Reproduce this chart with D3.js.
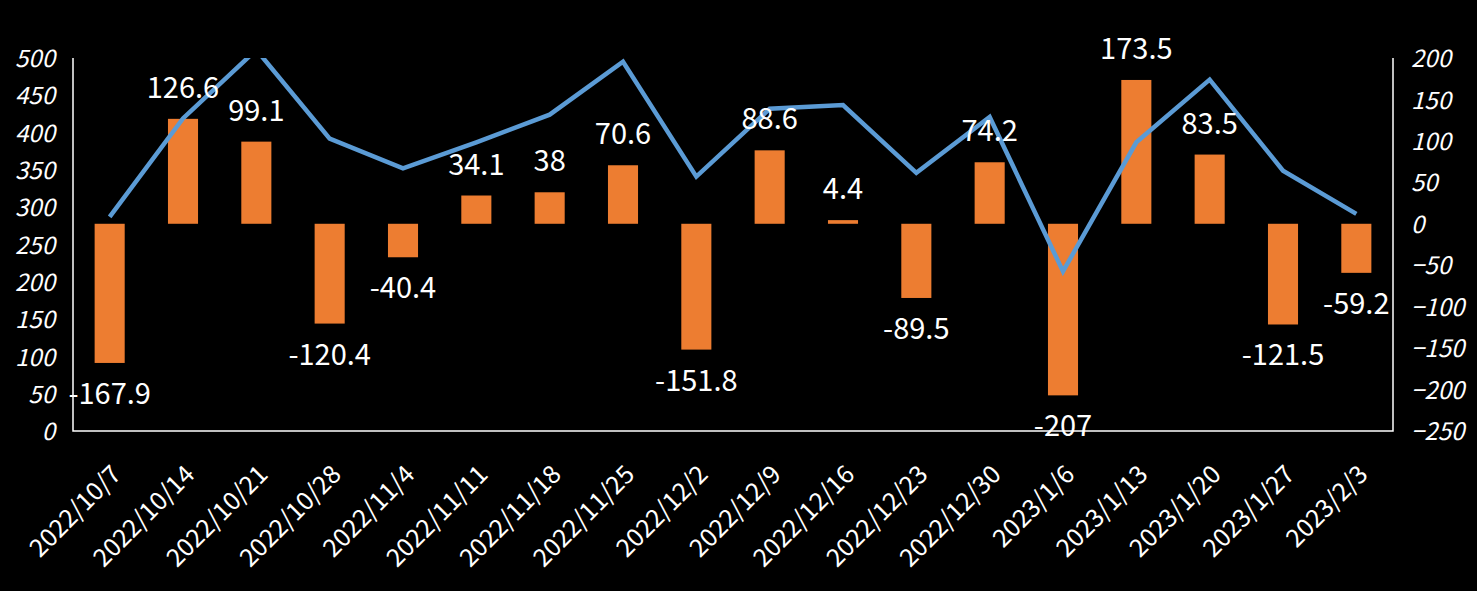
<!DOCTYPE html>
<html>
<head>
<meta charset="utf-8">
<script src="https://cdn.jsdelivr.net/npm/d3@7"></script>
<style>
  html, body { margin: 0; padding: 0; background: #000; }
  svg { display: block; }
</style>
</head>
<body>
<script>
const categories = ["2022/10/7","2022/10/14","2022/10/21","2022/10/28","2022/11/4","2022/11/11","2022/11/18","2022/11/25","2022/12/2","2022/12/9","2022/12/16","2022/12/23","2022/12/30","2023/1/6","2023/1/13","2023/1/20","2023/1/27","2023/2/3"];
const barValues = [-167.9,126.6,99.1,-120.4,-40.4,34.1,38,70.6,-151.8,88.6,4.4,-89.5,74.2,-207,173.5,83.5,-121.5,-59.2];
const lineValues = [287,419,511,392,352,387,424,495,341,432,437,346,421,214,387,471,349,291];
const leftTicks = [0,50,100,150,200,250,300,350,400,450,500];
const rightTicks = [-250,-200,-150,-100,-50,0,50,100,150,200];

(function () {
const W = 1477, H = 591;
const pL = 73, pR = 1393, pT = 58, pB = 431;
const FONT = "'Noto Sans CJK SC', 'Noto Sans', sans-serif";

const svg = d3.select("body").append("svg").attr("width", W).attr("height", H)
  .style("background", "#000");

const x = d3.scaleBand().domain(categories).range([pL, pR]).paddingInner(0).paddingOuter(0);
const cx = c => x(c) + x.bandwidth() / 2;
const yL = d3.scaleLinear().domain([0, 500]).range([pB, pT]);
const yR = d3.scaleLinear().domain([-250, 200]).range([pB, pT]);

svg.append("defs").append("clipPath").attr("id", "plotclip")
  .append("rect").attr("x", pL).attr("y", pT).attr("width", pR - pL).attr("height", pB - pT);

// bars
const bw = x.bandwidth() * 0.41;
svg.append("g").selectAll("rect").data(barValues).join("rect")
  .attr("x", (d, i) => cx(categories[i]) - bw / 2)
  .attr("width", bw)
  .attr("y", d => Math.min(yR(d), yR(0)))
  .attr("height", d => Math.abs(yR(d) - yR(0)))
  .attr("fill", "#ED7D31");

// axes lines
svg.append("path")
  .attr("d", d3.line()([[pL, pT], [pL, pB], [pR, pB], [pR, pT]]))
  .attr("stroke", "#fff").attr("stroke-width", 1.5).attr("fill", "none");

// line
const line = d3.line().x((d, i) => cx(categories[i])).y(d => yL(d));
svg.append("path").datum(lineValues)
  .attr("clip-path", "url(#plotclip)")
  .attr("d", line)
  .attr("fill", "none")
  .attr("stroke", "#5B9BD5")
  .attr("stroke-width", 4.5)
  .attr("stroke-linejoin", "miter");

// left ticks
const gL = svg.append("g").attr("transform", `translate(${pL},0)`)
  .call(d3.axisLeft(yL).tickValues(leftTicks).tickSize(0).tickPadding(18));
gL.select(".domain").remove();
gL.selectAll("text").attr("fill", "#fff").attr("font-family", FONT).attr("font-size", 24)
  .attr("font-style", "italic").attr("dy", "0.36em");

// right ticks
const gR = svg.append("g").attr("transform", `translate(${pR},0)`)
  .call(d3.axisRight(yR).tickValues(rightTicks).tickSize(0).tickPadding(18));
gR.select(".domain").remove();
gR.selectAll("text").attr("fill", "#fff").attr("font-family", FONT).attr("font-size", 24)
  .attr("font-style", "italic").attr("dy", "0.36em");

// x labels
svg.append("g").selectAll("text").data(categories).join("text")
  .attr("transform", d => `translate(${cx(d) + 13},${pB + 45}) rotate(-45)`)
  .attr("text-anchor", "end")
  .attr("fill", "#fff")
  .attr("font-family", FONT)
  .attr("font-size", 25)
  .text(d => d);

// data labels
svg.append("g").selectAll("text").data(barValues).join("text")
  .attr("x", (d, i) => cx(categories[i]))
  .attr("y", d => d >= 0 ? yR(d) - 21 : yR(d) + 41)
  .attr("text-anchor", "middle")
  .attr("fill", "#fff")
  .attr("font-family", FONT)
  .attr("font-size", 29)
  .text(d => String(d));
})();
</script>
</body>
</html>
